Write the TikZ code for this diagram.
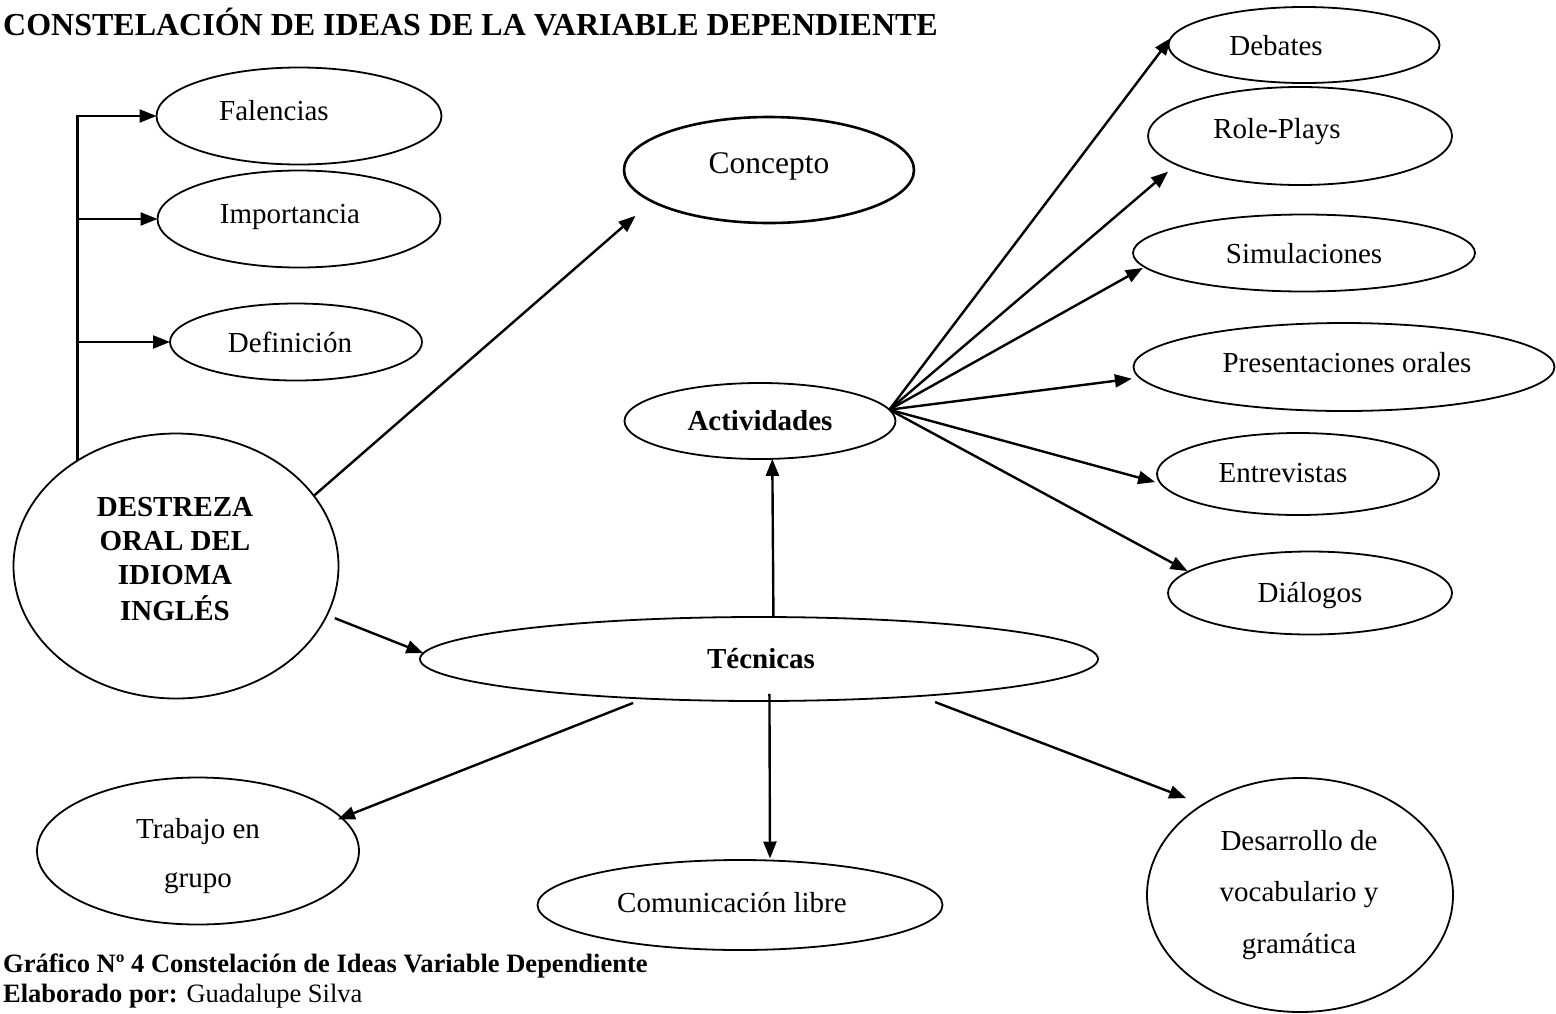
\documentclass[tikz,border=0pt]{standalone}
\usepackage{fontspec}
\setmainfont{Liberation Serif}
\usetikzlibrary{shapes.geometric,arrows.meta}
\newcommand\tpos[3]{\makebox[0pt]{\hspace*{#1}\hspace*{#1}\raisebox{#2}[0pt][0pt]{#3}}}
\begin{document}
\begin{tikzpicture}[x=1pt,y=-1pt,
  ell/.style={ellipse, draw, line width=1.8pt, inner sep=0pt, outer sep=0pt,
              font=\fontsize{29}{34}\selectfont},
  conn/.style={line width=2.4pt, -{Triangle[length=17pt,width=13pt]}},
  lbl/.style={inner sep=0pt, anchor=base west}]
\useasboundingbox (0,0) rectangle (1556,1013);

% title
\node[lbl, font=\fontsize{32}{36}\bfseries] (title) at (3,35)
  {CONSTELACIÓN DE IDEAS DE LA VARIABLE DEPENDIENTE};

% left group
\node[ell, minimum width=285pt, minimum height=97pt] (fal) at (299,116) {\tpos{-25pt}{-4pt}{Falencias}};
\node[ell, minimum width=283pt, minimum height=97pt] (imp) at (299,219) {\tpos{-9pt}{-4pt}{Importancia}};
\node[ell, minimum width=252pt, minimum height=77pt] (def) at (296,342) {\tpos{-6pt}{-10pt}{Definición}};
\node[ell, minimum width=325pt, minimum height=265pt, font=\fontsize{29}{34}\bfseries] (dest) at (176,566)
  {\tpos{-1pt}{-54pt}{\begin{tabular}[b]{@{}c@{}}DESTREZA\\ORAL DEL\\IDIOMA\\INGLÉS\end{tabular}}};

% centre
\node[ell, line width=2.6pt, minimum width=290pt, minimum height=106pt, font=\fontsize{31.5}{36}\selectfont] (con) at (769,170) {\tpos{0pt}{-3pt}{Concepto}};
\node[ell, minimum width=271pt, minimum height=76pt, font=\fontsize{29}{34}\bfseries] (act) at (760,421) {\tpos{0pt}{-9pt}{Actividades}};
\node[ell, minimum width=678pt, minimum height=84pt, font=\fontsize{29}{34}\bfseries] (tec) at (759,659) {\tpos{2pt}{-9pt}{Técnicas}};

% right column
\node[ell, minimum width=271pt, minimum height=76pt] (deb) at (1304,45) {\tpos{-28pt}{-10pt}{Debates}};
\node[ell, minimum width=304pt, minimum height=98pt] (role) at (1300,136) {\tpos{-23pt}{-2pt}{Role-Plays}};
\node[ell, minimum width=342pt, minimum height=77pt] (sim) at (1304,253) {\tpos{0pt}{-10pt}{Simulaciones}};
\node[ell, minimum width=421pt, minimum height=88pt] (pres) at (1344,367) {\tpos{3pt}{-5pt}{Presentaciones orales}};
\node[ell, minimum width=282pt, minimum height=82pt] (ent) at (1298,474) {\tpos{-15pt}{-8pt}{Entrevistas}};
\node[ell, minimum width=284pt, minimum height=83pt] (dia) at (1310,593) {\tpos{0pt}{-9pt}{Diálogos}};

% bottom
\node[ell, minimum width=322pt, minimum height=147pt, font=\fontsize{29}{49}\selectfont] (tra) at (198,851)
  {\tpos{0pt}{-36pt}{\begin{tabular}[b]{@{}c@{}}Trabajo en\\grupo\end{tabular}}};
\node[ell, minimum width=405pt, minimum height=90pt] (com) at (740,905) {\tpos{-8pt}{-7pt}{Comunicación libre}};
\node[ell, minimum width=306pt, minimum height=234pt, font=\fontsize{29}{51.5}\selectfont] (des) at (1300,895)
  {\tpos{-1pt}{-58pt}{\begin{tabular}[b]{@{}c@{}}Desarrollo de\\vocabulario y\\gramática\end{tabular}}};

% caption
\node[lbl, font=\fontsize{26.5}{30}\bfseries] (cap1) at (3,972)
  {Gráfico Nº 4 Constelación de Ideas Variable Dependiente};
\node[lbl, font=\fontsize{26.5}{30}\selectfont] (cap2) at (3,1002)
  {\textbf{Elaborado por:} Guadalupe Silva};

% connectors: left bracket
\draw[conn] (dest.133.3) |- (fal.west);
\draw[conn] (dest.133.3 |- imp.west) -- (imp.west);
\draw[conn] (dest.133.3 |- def.west) -- (def.west);

% from DESTREZA
\draw[conn, shorten >=22pt] (dest.27.06) -- (con.195.2);
\draw[conn, shorten <=8.5pt] (dest.342.1) -- (tec.179);

% Técnicas
\draw[conn] (tec.71.57) -- (act.288.9);
\draw[conn, shorten <=12pt, shorten >=-4pt] (tec.199.4) -- (tra.13.6);
\draw[conn, shorten <=-7pt, shorten >=2pt] (tec.284.7) -- (com.56);
\draw[conn, shorten <=17pt, shorten >=18pt] (tec.347.5) -- (des.137.7);

% Actividades fan
\draw[conn] (act.5) -- (deb.177.5);
\draw[conn, shorten >=11pt] (act.5) -- (role.193);
\draw[conn, shorten >=2pt] (act.5) -- (sim.185.9);
\draw[conn, shorten >=8pt] (act.5) -- (pres.183.4);
\draw[conn, shorten >=6pt] (act.5) -- (ent.184);
\draw[conn, shorten >=1pt] (act.5) -- (dia.170.5);
\end{tikzpicture}
\end{document}
